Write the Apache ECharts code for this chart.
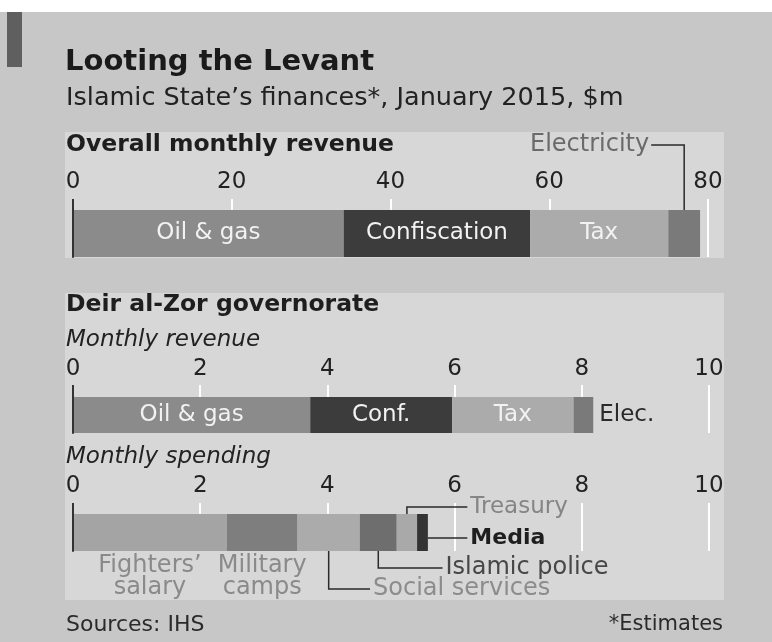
<!DOCTYPE html>
<html>
<head>
<meta charset="utf-8">
<script src="https://cdn.jsdelivr.net/npm/echarts@6/dist/echarts.min.js"></script>
<style>
  html, body { margin: 0; padding: 0; background: #c7c7c7; }
  #chart { width: 772px; height: 642px; }
</style>
</head>
<body>
<div id="chart"></div>
<script>
// data ($m per month)
const overallNames = ['Oil & gas', 'Confiscation', 'Tax', 'Electricity'];
const overallValues = [34.1, 23.5, 17.4, 4.0];
const overallTicks = [0, 20, 40, 60, 80];

const revenueNames = ['Oil & gas', 'Conf.', 'Tax', 'Elec.'];
const revenueValues = [3.73, 2.23, 1.91, 0.31];

const spendingNames = ['Fighters\u2019\nsalary', 'Military\ncamps', 'Social services', 'Islamic police', 'Treasury', 'Media'];
const spendingValues = [2.42, 1.11, 0.98, 0.58, 0.32, 0.17];
const deirTicks = [0, 2, 4, 6, 8, 10];

const FONT = '"DejaVu Sans", sans-serif';
const revenueColors = ['#8b8b8b', '#3c3c3c', '#ababab', '#7a7a7a'];
const spendingColors = ['#a4a4a4', '#7e7e7e', '#ababab', '#6e6e6e', '#a9a9a9', '#333333'];

const chart = echarts.init(document.getElementById('chart'));

// grids: the bar fills the grid, ticks stick out above it
const grids = [
  { left: 73, right: 64, top: 210, height: 47 },
  { left: 73, right: 63, top: 397, height: 36 },
  { left: 73, right: 63, top: 514, height: 37 }
];
const tickLen = [11, 12, 11];

function axesFor(g, ticks) {
  const max = ticks[ticks.length - 1];
  const step = ticks[1] - ticks[0];
  return [
    {
      gridIndex: g, type: 'value', position: 'top', min: 0, max: max, interval: step,
      axisLine: { show: false },
      axisTick: { show: true, length: tickLen[g], customValues: ticks.slice(1),
        lineStyle: { color: '#ffffff', width: 2 } },
      axisLabel: { margin: 16, fontSize: 23, color: '#222', fontFamily: FONT },
      splitLine: { show: true, lineStyle: { color: '#ffffff', width: 2 } }
    },
    {
      gridIndex: g, type: 'value', position: 'top', min: 0, max: max, interval: step,
      axisLine: { show: false },
      axisTick: { show: true, length: tickLen[g], customValues: [0],
        lineStyle: { color: '#333', width: 2 } },
      axisLabel: { show: false },
      splitLine: { show: false }
    }
  ];
}

function stack(g, names, values, colors, labelFn) {
  return values.map(function (v, i) {
    return {
      type: 'bar', name: names[i], stack: 's' + g,
      xAxisIndex: g * 2, yAxisIndex: g,
      barWidth: '100%', silent: true,
      data: [v],
      itemStyle: { color: colors[i] },
      label: labelFn(i)
    };
  });
}

const inside = function (text) {
  return { show: true, position: 'inside', formatter: text,
    color: '#f2f2f2', fontSize: 23, fontFamily: FONT };
};

const series = []
  .concat(stack(0, overallNames, overallValues, revenueColors, function (i) {
    return i < 3 ? inside(overallNames[i]) : { show: false };
  }))
  .concat(stack(1, revenueNames, revenueValues, revenueColors, function (i) {
    if (i < 3) return inside(revenueNames[i]);
    return { show: true, position: 'right', distance: 6, formatter: revenueNames[i],
      color: '#2a2a2a', fontSize: 23, fontFamily: FONT };
  }))
  .concat(stack(2, spendingNames, spendingValues, spendingColors, function (i) {
    if (i < 2) {
      return { show: true, position: 'bottom', distance: 4, formatter: spendingNames[i],
        color: '#8a8a8a', fontSize: 24, lineHeight: 22, fontFamily: FONT };
    }
    return { show: false };
  }));

function txt(id, text, x, y, font, fill, align) {
  return { type: 'text', id: id, x: x, y: y, z: 5,
    style: { text: text, font: font, fill: fill, textAlign: align || 'left', textVerticalAlign: 'middle' } };
}

const decor = [
  { type: 'rect', id: 'topstrip', z: -10, shape: { x: 0, y: 0, width: 772, height: 12 }, style: { fill: '#ffffff' } },
  { type: 'rect', id: 'flag', z: -9, shape: { x: 7, y: 12, width: 15, height: 55 }, style: { fill: '#5f5f5f' } },
  { type: 'rect', id: 'panel1', z: -9, shape: { x: 65, y: 132, width: 659, height: 126 }, style: { fill: '#d7d7d7' } },
  { type: 'rect', id: 'panel2', z: -9, shape: { x: 65, y: 293, width: 659, height: 307 }, style: { fill: '#d7d7d7' } },
  txt('title', 'Looting the Levant', 65, 62, 'bold 29px ' + FONT, '#1a1a1a'),
  txt('sub', 'Islamic State\u2019s finances*, January 2015, $m', 66, 98, '25.5px ' + FONT, '#222'),
  txt('h1', 'Overall monthly revenue', 66, 145, 'bold 23.5px ' + FONT, '#1e1e1e'),
  txt('h2', 'Deir al-Zor governorate', 66, 305, 'bold 23.5px ' + FONT, '#1e1e1e'),
  txt('h3', 'Monthly revenue', 66, 340, 'oblique 23px ' + FONT, '#222'),
  txt('h4', 'Monthly spending', 66, 457, 'oblique 23px ' + FONT, '#222'),
  txt('src', 'Sources: IHS', 66, 625, '22px ' + FONT, '#2a2a2a'),
  txt('est', '*Estimates', 723, 625, '21px ' + FONT, '#2a2a2a', 'right')
];

chart.setOption({
  animation: false,
  backgroundColor: '#c7c7c7',
  grid: grids,
  xAxis: [].concat(axesFor(0, overallTicks), axesFor(1, deirTicks), axesFor(2, deirTicks)),
  yAxis: [0, 1, 2].map(function (g) {
    return { gridIndex: g, type: 'category', data: [''], z: 10,
      axisLine: { show: true, lineStyle: { color: '#333', width: 2 } },
      axisTick: { show: false }, axisLabel: { show: false } };
  }),
  series: series,
  graphic: { elements: decor }
});

// leader lines, placed through the axes' own scales
function px(g, v) { return chart.convertToPixel({ xAxisIndex: g * 2 }, v); }
function mid(values, i) {
  let s = 0;
  for (let k = 0; k < i; k++) s += values[k];
  return s + values[i] / 2;
}
function end(values, i) {
  let s = 0;
  for (let k = 0; k <= i; k++) s += values[k];
  return s;
}
function line(id, pts) {
  return { type: 'polyline', id: id, z: 5, shape: { points: pts },
    style: { stroke: '#2a2a2a', lineWidth: 1.5, fill: null } };
}

const barTop1 = grids[0].top, barTop3 = grids[2].top, barBot3 = grids[2].top + grids[2].height;
const xe = px(0, mid(overallValues, 3));
const xTre = px(2, mid(spendingValues, 4));
const xMed = px(2, end(spendingValues, 5));
const xPol = px(2, mid(spendingValues, 3));
const xSoc = px(2, mid(spendingValues, 2));
const xTxt = px(2, 6.2);

const leaders = [
  line('l_elec', [[xe - 33, 145], [xe, 145], [xe, barTop1]]),
  txt('t_elec', 'Electricity', xe - 35, 145, '24px ' + FONT, '#6a6a6a', 'right'),
  line('l_tre', [[xTre, barTop3], [xTre, 507], [xTxt, 507]]),
  txt('t_tre', 'Treasury', xTxt + 3, 507, '23px ' + FONT, '#858585'),
  line('l_med', [[xMed, 538], [xTxt, 538]]),
  txt('t_med', 'Media', xTxt + 3, 538, 'bold 22px ' + FONT, '#1e1e1e'),
  line('l_pol', [[xPol, barBot3], [xPol, 568], [px(2, 5.81), 568]]),
  txt('t_pol', 'Islamic police', px(2, 5.81) + 3, 568, '24px ' + FONT, '#474747'),
  line('l_soc', [[xSoc, barBot3], [xSoc, 589], [px(2, 4.67), 589]]),
  txt('t_soc', 'Social services', px(2, 4.67) + 3, 589, '24px ' + FONT, '#8c8c8c')
];

chart.setOption({ graphic: { elements: leaders } });
</script>
</body>
</html>
